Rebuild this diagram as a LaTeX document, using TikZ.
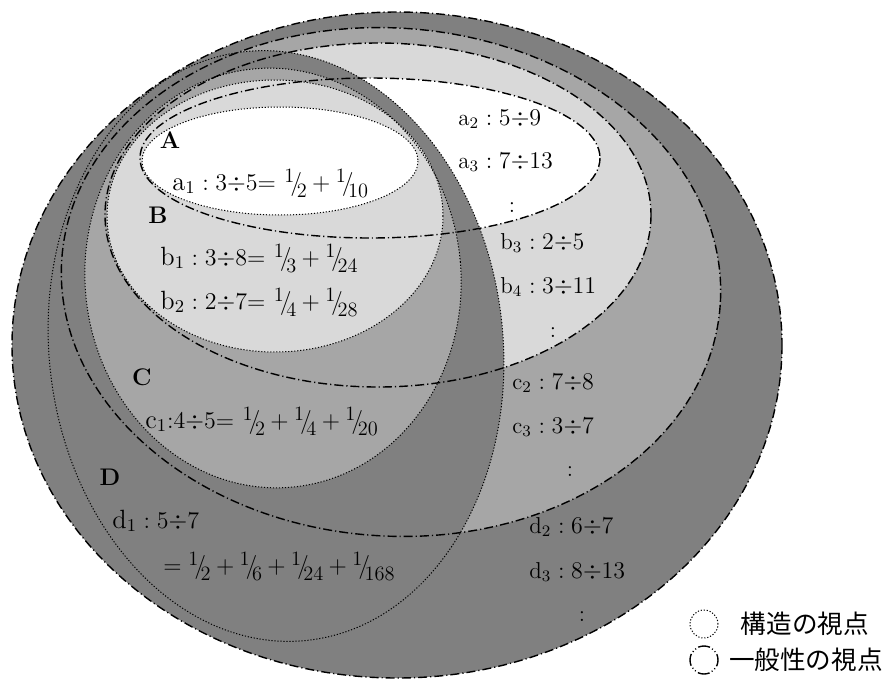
\documentclass[tikz,border=0pt]{standalone}
\usepackage{fontspec}
\usepackage{graphicx}
\newfontfamily\jpfont{Noto Sans CJK JP}
\usetikzlibrary{positioning}
\definecolor{levelB}{gray}{0.85}
\definecolor{levelC}{gray}{0.65}
\definecolor{levelD}{gray}{0.5}
\newcommand{\ufrac}[2]{\mathord{\raisebox{0.3em}{\scalebox{0.85}{$#1$}}%
  \mkern-3mu\big/\mkern-4mu\raisebox{-0.27em}{\scalebox{0.85}{$#2$}}}}
\tikzset{
  structure/.style = {line width = 0.5pt, dash pattern = on 0.6pt off 0.9pt},
  generality/.style = {line width = 0.7pt,
    dash pattern = on 4.5pt off 1.5pt on 0.6pt off 1.5pt},
  setname/.style = {font = \large\bfseries, inner sep = 1pt},
  member/.style = {anchor = base west, inner sep = 0pt,
    font = \fontsize{11.5}{13}\selectfont},
  equation/.style = {member, font = \fontsize{13.2}{15}\selectfont},
  moredots/.style = {inner sep = 0pt, font = \fontsize{11.5}{13}\selectfont},
  legend/.style = {font = \fontsize{12.8}{15}\selectfont\jpfont, inner sep = 0pt}
}

\begin{document}
\begin{tikzpicture}[x = 0.5pt, y = -0.5pt]

\useasboundingbox (0,0) rectangle (896,681);

% generality
\fill [levelD] (397,345) ellipse [x radius = 385, y radius = 333];
\fill [levelC] (391,282) ellipse [x radius = 330, y radius = 254, rotate = -4];
\fill [levelB] (378,215) ellipse [x radius = 273, y radius = 172];
\fill [white]  (370,158) ellipse [x radius = 230, y radius = 80];
% structure
\fill [levelD] (276,346) ellipse [x radius = 227, y radius = 296, rotate = 6];
\fill [levelC] (273,278) ellipse [x radius = 188, y radius = 210, rotate = 5];
\fill [levelB] (275,216) ellipse [x radius = 168, y radius = 136];
\fill [white]  (280,161) ellipse [x radius = 138, y radius = 54];

\draw [generality] (397,345) ellipse [x radius = 385, y radius = 333];
\draw [generality] (391,282) ellipse [x radius = 330, y radius = 254, rotate = -4];
\draw [generality] (378,215) ellipse [x radius = 273, y radius = 172];
\draw [generality] (370,158) ellipse [x radius = 230, y radius = 80];
\draw [structure] (276,346) ellipse [x radius = 227, y radius = 296, rotate = 6];
\draw [structure] (273,278) ellipse [x radius = 188, y radius = 210, rotate = 5];
\draw [structure] (275,216) ellipse [x radius = 168, y radius = 136];
\draw [structure] (280,161) ellipse [x radius = 138, y radius = 54];

\node [setname] (setA) at (170,140) {A};
\node [setname] (setB) at (158,215) {B};
\node [setname] (setC) at (142,377) {C};
\node [setname] (setD) at (110,477) {D};

\node [equation] (a1) at (172,190) {$\mathrm{a}_1 : 3{\div}5{=}\ \ufrac12 + \ufrac1{10}$};
\node [equation] (b1) at (160,265) {$\mathrm{b}_1 : 3{\div}8{=}\ \ufrac13 + \ufrac1{24}$};
\node [equation] (b2) at (160,309) {$\mathrm{b}_2 : 2{\div}7{=}\ \ufrac14 + \ufrac1{28}$};
\node [equation] (c1) at (145,428) {$\mathrm{c}_1{:}4{\div}5{=}\ \ufrac12 + \ufrac14 + \ufrac1{20}$};
\node [equation] (d1) at (112,528) {$\mathrm{d}_1 : 5{\div}7$};
\node [equation] (d1sum) at (163,573) {$=\ufrac12 + \ufrac16 + \ufrac1{24} + \ufrac1{168}$};

\node [member] (a2) at (458,125) {$\mathrm{a}_2 : 5{\div}9$};
\node [member] (a3) at (458,168) {$\mathrm{a}_3 : 7{\div}13$};
\node [moredots] (adots) at (512,208) {:};
\node [member] (b3) at (500,249) {$\mathrm{b}_3 : 2{\div}5$};
\node [member] (b4) at (500,293) {$\mathrm{b}_4 : 3{\div}11$};
\node [moredots] (bdots) at (553,333) {:};
\node [member] (c2) at (512,389) {$\mathrm{c}_2 : 7{\div}8$};
\node [member] (c3) at (512,433) {$\mathrm{c}_3 : 3{\div}7$};
\node [moredots] (cdots) at (570,472) {:};
\node [member] (d2) at (529,533) {$\mathrm{d}_2 : 6{\div}7$};
\node [member] (d3) at (529,578) {$\mathrm{d}_3 : 8{\div}13$};
\node [moredots] (ddots) at (582,617) {:};

\node [draw, circle, structure, minimum size = 14pt, inner sep = 0pt] (keyS) at (704,624) {};
\node [draw, circle, generality, minimum size = 14pt, inner sep = 0pt,
  dash pattern = on 6pt off 1.3pt on 0.5pt off 1.3pt on 0.5pt off 1.3pt,
  dash phase = 3pt] (keyG) at (704,660) {};
\node [legend, right = 11pt of keyS] (keySText) {構造の視点};
\node [legend, right = 5pt of keyG] (keyGText) {一般性の視点};

\end{tikzpicture}
\end{document}
